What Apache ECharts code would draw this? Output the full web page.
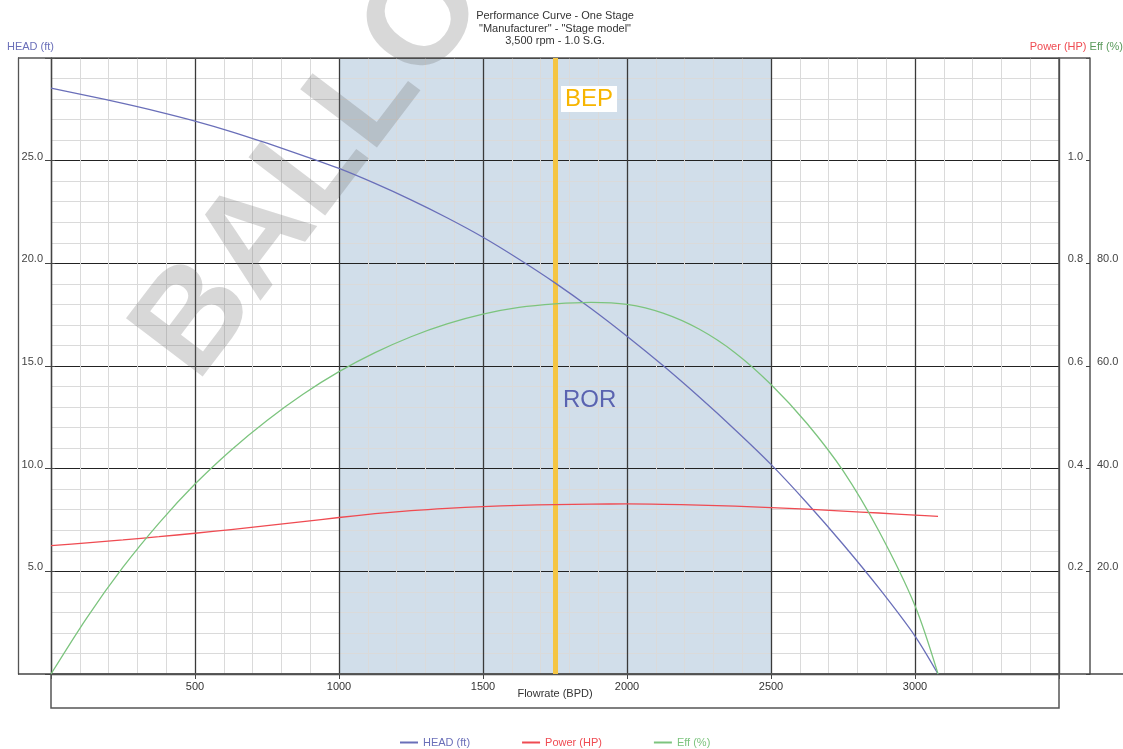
<!DOCTYPE html>
<html>
<head>
<meta charset="utf-8">
<script src="https://cdn.jsdelivr.net/npm/echarts@6/dist/echarts.min.js"></script>
<style>html,body{margin:0;padding:0;background:#fff}#c{width:1123px;height:749px}</style>
</head>
<body>
<div id="c"></div>
<script>
// ---- data ----
const flow    = [0, 125, 250, 375, 500, 625, 750, 875, 1000, 1125, 1250, 1375, 1500, 1625, 1750, 1875, 2000, 2125, 2250, 2375, 2500, 2625, 2750, 2875, 3000, 3080];
const headFt  = [28.53, 28.17, 27.79, 27.38, 26.93, 26.42, 25.85, 25.25, 24.62, 23.89, 23.09, 22.22, 21.27, 20.2, 19.05, 17.8, 16.45, 15.02, 13.5, 11.9, 10.21, 8.33, 6.32, 4.18, 1.85, 0.0];
const powerHp = [0.2500, 0.2555, 0.2613, 0.2675, 0.2742, 0.2814, 0.2890, 0.2969, 0.3049, 0.3123, 0.3183, 0.3228, 0.3261, 0.3285, 0.3301, 0.3310, 0.3313, 0.3305, 0.3290, 0.3269, 0.3242, 0.3210, 0.3174, 0.3136, 0.3096, 0.3070];
const effPct  = [0.0, 11.0, 20.8, 29.4, 37.0, 43.6, 49.4, 54.5, 58.9, 62.6, 65.7, 68.2, 70.1, 71.4, 72.1, 72.4, 72.0, 70.3, 67.2, 62.6, 56.4, 48.8, 39.6, 27.8, 13.3, 0.0];
const rorRange = [1000, 2500];
const bepFlow = 1750;
const titleLines = ['Performance Curve - One Stage', '"Manufacturer" - "Stage model"', '3,500 rpm - 1.0 S.G.'];
const seriesNames = ['HEAD (ft)', 'Power (HP)', 'Eff (%)'];
const xAxisName = 'Flowrate (BPD)';
const watermark = 'BALLOON';

const C_HEAD = '#6a6fb9', C_POW = '#ef4b52', C_EFF = '#7cc47e';
const FONT = '"Liberation Sans", Arial, sans-serif';
const G = {left: 51, right: 1059, top: 58, bottom: 674};

const pairs = (ys) => flow.map((x, i) => [x, ys[i]]);

const chart = echarts.init(document.getElementById('c'));
const lineStyleBase = {width: 1.3};
chart.setOption({
  animation: false,
  textStyle: {fontFamily: FONT},
  title: {
    text: titleLines.join('\n'),
    left: 550, top: 5, textAlign: 'center',
    textStyle: {fontSize: 11, fontWeight: 'normal', color: '#333', lineHeight: 12.5, fontFamily: FONT}
  },
  legend: {
    top: 737, left: 400, padding: 0,
    itemWidth: 18, itemHeight: 2, itemGap: 52,
    textStyle: {fontSize: 11, fontFamily: FONT},
    data: [
      {name: seriesNames[0], icon: 'rect', textStyle: {color: C_HEAD}},
      {name: seriesNames[1], icon: 'rect', textStyle: {color: C_POW}},
      {name: seriesNames[2], icon: 'rect', textStyle: {color: C_EFF}}
    ]
  },
  grid: {left: G.left, right: 1123 - G.right, top: G.top, bottom: 749 - G.bottom, containLabel: false, outerBoundsMode: 'none'},
  xAxis: [
    {type: 'value', min: 0, max: 3500, interval: 100, position: 'bottom',
     axisLine: {show: false}, axisTick: {show: false}, axisLabel: {show: false},
     splitLine: {show: true, lineStyle: {color: '#dadada', width: 1}}},
    {type: 'value', min: 0, max: 3500, interval: 500, position: 'bottom',
     name: xAxisName, nameLocation: 'middle', nameGap: 14, nameMoveOverlap: false,
     nameTextStyle: {fontSize: 11, color: '#333', fontFamily: FONT},
     axisLine: {show: true, lineStyle: {color: '#444', width: 1.3}},
     axisTick: {show: true, length: 5, lineStyle: {color: '#444'}},
     axisLabel: {fontSize: 11, color: '#333', margin: 7,
       formatter: (v) => (v === 0 || v === 3500) ? '' : String(v)},
     splitLine: {show: true, lineStyle: {color: '#3a3a3a', width: 1.3}}}
  ],
  yAxis: [
    {type: 'value', min: 0, max: 30, interval: 1, position: 'left',
     axisLine: {show: false}, axisTick: {show: false}, axisLabel: {show: false},
     splitLine: {show: true, lineStyle: {color: '#dadada', width: 1}}},
    {type: 'value', min: 0, max: 30, interval: 5, position: 'left',
     name: seriesNames[0], nameLocation: 'end', nameGap: 6, nameMoveOverlap: false,
     nameTextStyle: {fontSize: 11, color: C_HEAD, align: 'right', padding: [0, -3, 0, 0], fontFamily: FONT},
     axisLine: {show: true, onZero: false, lineStyle: {color: '#444', width: 1.3}},
     axisTick: {show: true, length: 6, lineStyle: {color: '#444'}},
     axisLabel: {fontSize: 11, color: '#444', margin: 8, verticalAlign: 'bottom', lineHeight: 8,
       formatter: (v) => (v === 0 || v === 30) ? '' : v.toFixed(1)},
     splitLine: {show: true, lineStyle: {color: '#222', width: 1}}},
    {type: 'value', min: 0, max: 1.2, interval: 0.2, position: 'right', offset: 31,
     name: '{p|' + seriesNames[1] + '} {e|' + seriesNames[2] + '}', nameLocation: 'end', nameGap: 6, nameMoveOverlap: false,
     nameTextStyle: {fontSize: 11, align: 'right', padding: [0, -33, 0, 0], fontFamily: FONT,
       rich: {p: {color: C_POW, fontSize: 11, fontFamily: FONT}, e: {color: '#5a9a5c', fontSize: 11, fontFamily: FONT}}},
     axisLine: {show: true, onZero: false, lineStyle: {color: '#555', width: 1.5}},
     axisTick: {show: true, inside: true, length: 4, lineStyle: {color: '#444'}},
     axisLabel: {inside: true, fontSize: 11, color: '#444', margin: 7, verticalAlign: 'bottom', lineHeight: 8,
       formatter: (v) => (v < 0.1 || v > 1.1) ? '' : v.toFixed(1)},
     splitLine: {show: false}},
    {type: 'value', min: 0, max: 120, interval: 20, position: 'right', offset: 31,
     axisLine: {show: false},
     axisTick: {show: true, length: 4, lineStyle: {color: '#444'}},
     axisLabel: {fontSize: 11, color: '#444', margin: 7, verticalAlign: 'bottom', lineHeight: 8,
       formatter: (v) => (v === 0 || v >= 100) ? '' : v.toFixed(1)},
     splitLine: {show: false}},
    {type: 'value', min: 0, max: 30, position: 'left', offset: 33,
     axisLine: {show: true, onZero: false, lineStyle: {color: '#555', width: 1.3}},
     axisTick: {show: false}, axisLabel: {show: false}, splitLine: {show: false}},
    {type: 'value', min: 0, max: 30, position: 'right', offset: 0,
     axisLine: {show: true, onZero: false, lineStyle: {color: '#555', width: 1.5}},
     axisTick: {show: false}, axisLabel: {show: false}, splitLine: {show: false}}
  ],
  graphic: [
    {type: 'line', silent: true, z: 3, shape: {x1: 18, y1: G.top, x2: 1090, y2: G.top}, style: {stroke: '#555', lineWidth: 1.3}},
    {type: 'line', silent: true, z: 3, shape: {x1: 18, y1: G.bottom, x2: 1123, y2: G.bottom}, style: {stroke: '#444', lineWidth: 1.3}},
    {type: 'rect', silent: true, z: 3, shape: {x: G.left, y: G.bottom, width: G.right - G.left, height: 34}, style: {fill: null, stroke: '#555', lineWidth: 1.5}},
    {type: 'text', silent: true, z: 1, x: 222, y: 403, rotation: 0.92,
     style: {text: watermark, font: 'bold 140px ' + FONT, fill: 'rgba(110,110,110,0.27)', textAlign: 'left', textVerticalAlign: 'bottom'}}
  ],
  series: [
    {type: 'line', name: '__ror', data: [], xAxisIndex: 1, yAxisIndex: 1, silent: true,
     markArea: {z: -1, silent: true, itemStyle: {color: '#d1deea'},
       data: [[{xAxis: rorRange[0]}, {xAxis: rorRange[1]}]]}},
    {type: 'line', name: '__bep', data: [], xAxisIndex: 1, yAxisIndex: 1, silent: true,
     markLine: {z: 3, silent: true, symbol: ['none', 'none'], label: {show: false},
       lineStyle: {color: '#f5c542', width: 5, type: 'solid'},
       data: [{xAxis: bepFlow}]},
     markPoint: {z: 6, silent: true, symbol: 'rect', symbolSize: 0,
       data: [
         {coord: [bepFlow, 28.0], label: {show: true, formatter: 'BEP', position: 'right', distance: 6,
           fontSize: 24, color: '#f7b500', backgroundColor: '#fff', padding: [2, 4, 0, 4], fontFamily: FONT}},
         {coord: [bepFlow, 13.35], label: {show: true, formatter: 'ROR', position: 'right', distance: 8,
           fontSize: 24, color: '#5a63b0', fontFamily: FONT}}
       ]}},
    {type: 'line', name: seriesNames[0], data: pairs(headFt), xAxisIndex: 1, yAxisIndex: 1,
     smooth: 0.3, symbol: 'none', z: 4, color: C_HEAD, lineStyle: Object.assign({color: C_HEAD}, lineStyleBase)},
    {type: 'line', name: seriesNames[1], data: pairs(powerHp), xAxisIndex: 1, yAxisIndex: 2,
     smooth: 0.3, symbol: 'none', z: 4, color: C_POW, lineStyle: Object.assign({color: C_POW}, lineStyleBase)},
    {type: 'line', name: seriesNames[2], data: pairs(effPct), xAxisIndex: 1, yAxisIndex: 3,
     smooth: 0.3, symbol: 'none', z: 4, color: C_EFF, lineStyle: Object.assign({color: C_EFF}, lineStyleBase)}
  ]
});
</script>
</body>
</html>
